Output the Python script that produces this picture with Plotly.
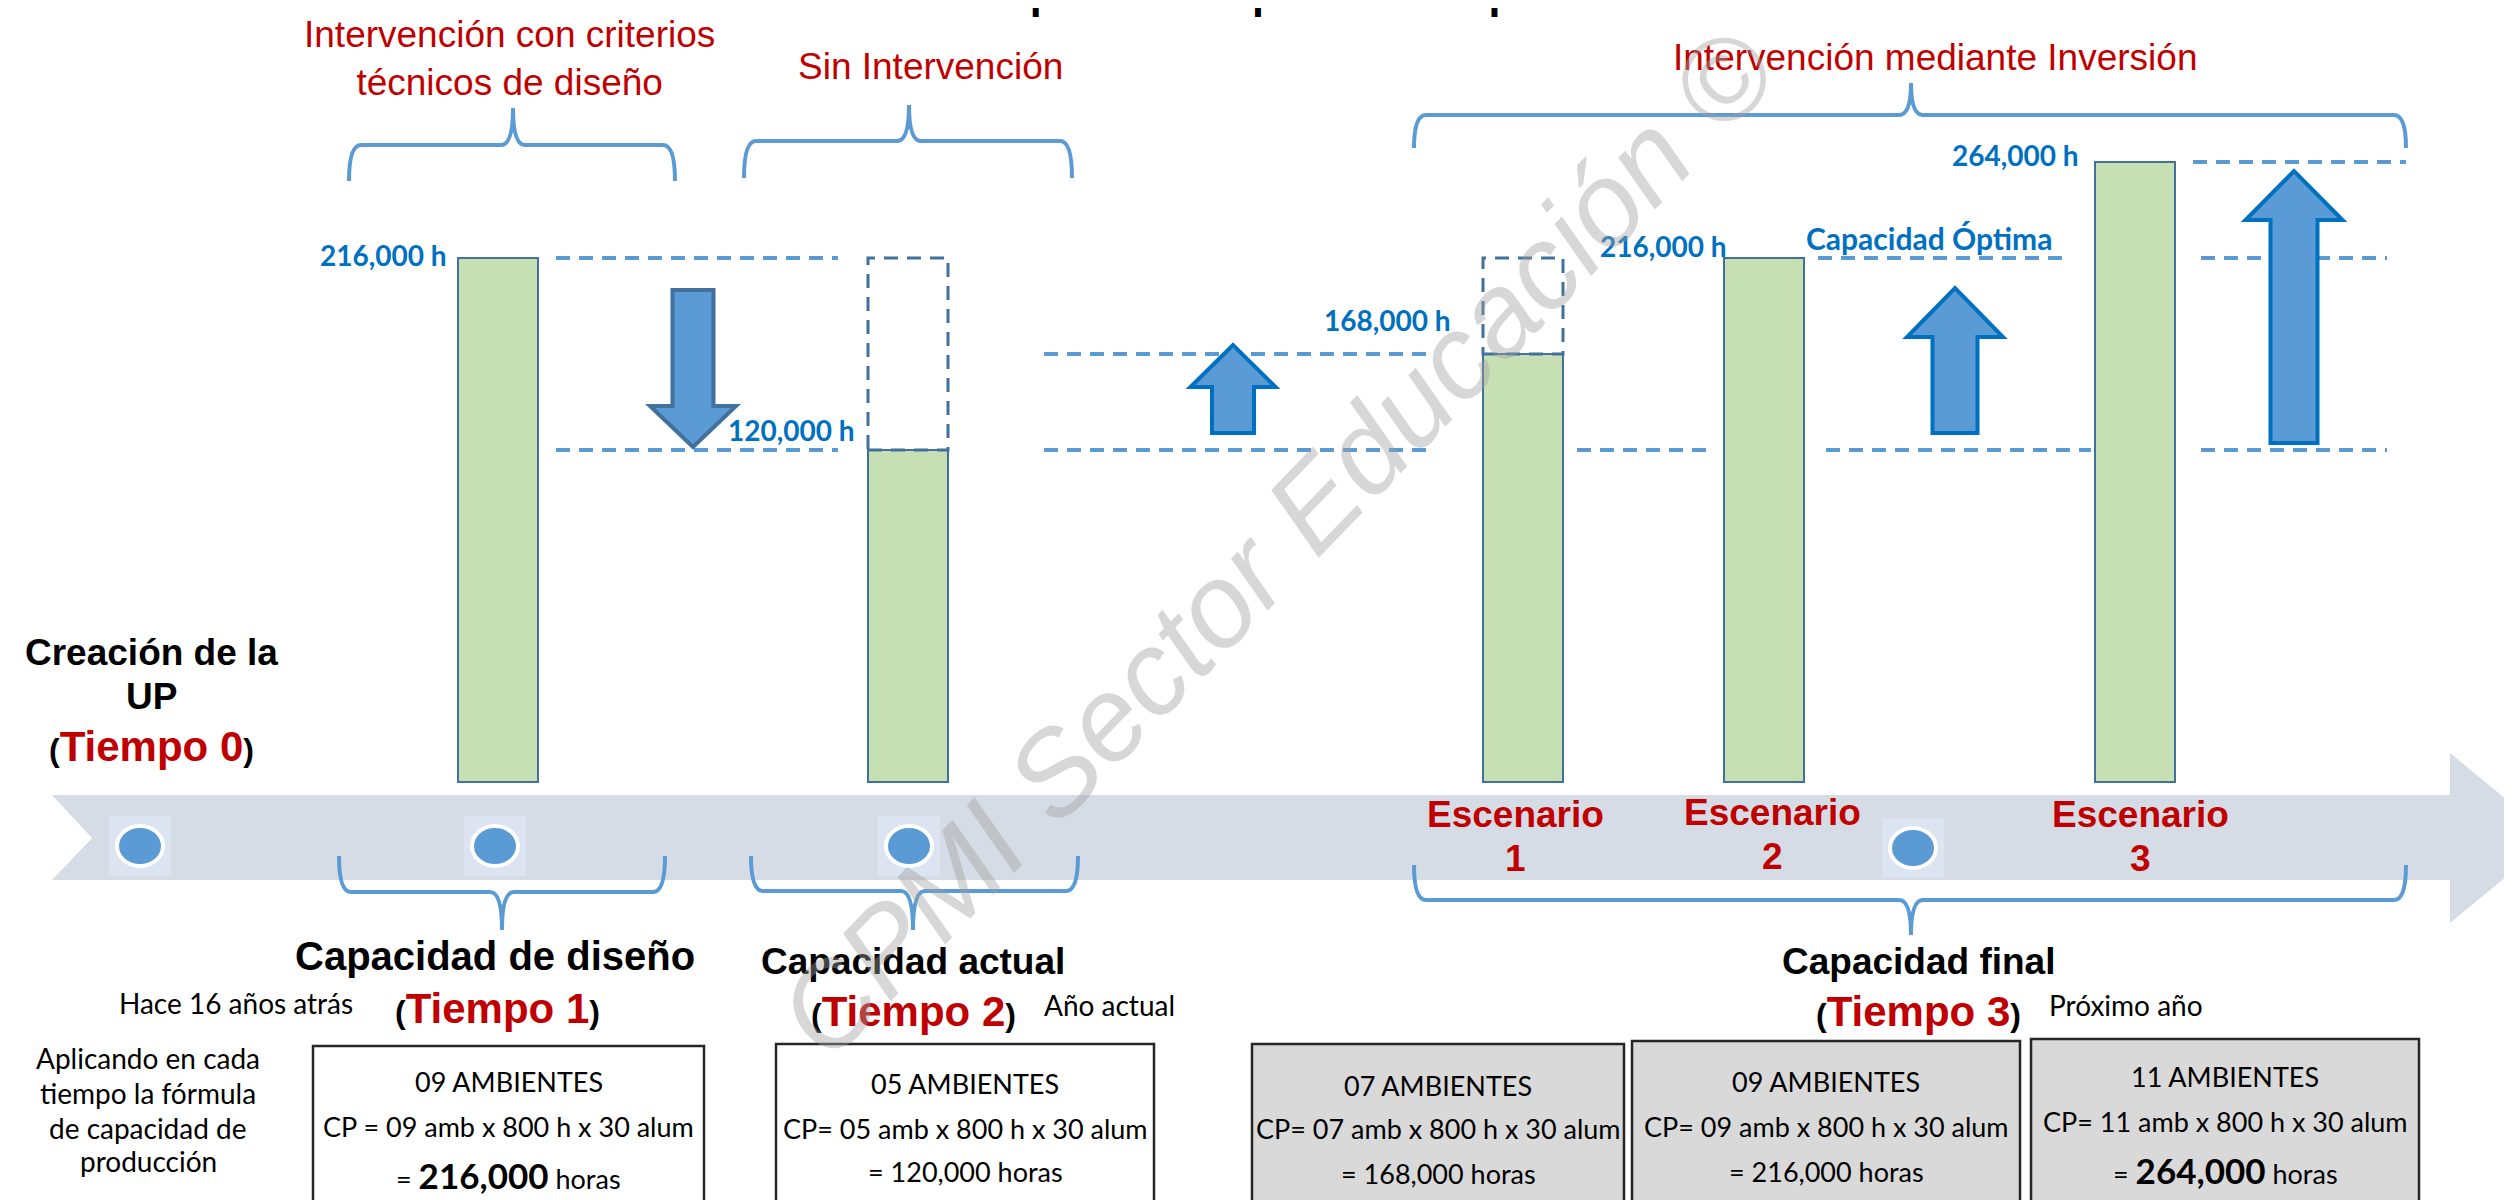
import plotly.graph_objects as go

W, H = 2512, 1200

# ---------------- datos ----------------
etapas = ["Tiempo 1", "Tiempo 2", "Escenario 1", "Escenario 2", "Escenario 3"]
ambientes = ["09", "05", "07", "09", "11"]
horas_ambiente = 800
alumnos = 30
capacidad_h = [216000, 120000, 168000, 216000, 264000]
etiquetas_h = ["216,000 h", "120,000 h", "168,000 h", "216,000 h", "264,000 h"]
capacidad_diseno = 216000
capacidad_actual = 120000
capacidad_esc1 = 168000
capacidad_max = 264000
resaltado = [True, False, False, False, True]
cp_sep = ["CP = ", "CP= ", "CP= ", "CP= ", "CP= "]
cajas_gris = [False, False, True, True, True]

titulo = "Línea de tiempo de la capacidad de producción en la UPS"
fases_arriba = ["Intervención con criterios<br>técnicos de diseño", "Sin Intervención",
                "Intervención mediante Inversión"]
tiempos = ["Tiempo 0", "Tiempo 1", "Tiempo 2", "Tiempo 3"]
capacidades = ["Capacidad de diseño", "Capacidad actual", "Capacidad final"]
referencias = ["Hace 16 años atrás", "Año actual", "Próximo año"]
nota_formula = ["Aplicando en cada", "tiempo la fórmula", "de capacidad de", "producción"]

# ---------------- escala / estilos ----------------
ARIAL = "Liberation Sans, Arial, sans-serif"
CALIBRI = "Lato, Carlito, Calibri, sans-serif"
ROJO = "#C00000"
AZUL = "#5B9BD5"
AZUL_OSC = "#41719C"
AZUL_TXT = "#0070C0"

BASE_PX = 774          # pixel row where bars start (top of timeline)
PX_POR_H = 2.0 / 1000
BASE_H = -46000        # schematic offset, bars are not to scale in the original


def h_en_px(p):
    return BASE_H + (BASE_PX - p) / PX_POR_H


def py(p):
    return 1 - p / H


bar_x = [490, 900, 1515, 1756, 2127]
bar_w = 80

fig = go.Figure()
fig.add_trace(go.Bar(
    x=bar_x, y=[c - BASE_H for c in capacidad_h], base=BASE_H, width=bar_w,
    marker=dict(color="#C6E0B4", line=dict(color=AZUL_OSC, width=2)),
    hoverinfo="skip"))

shapes = []
ann = []


def texto(x, y, s, size, color="black", family=ARIAL, xanchor="center", yanchor="middle"):
    ann.append(dict(x=x, y=py(y), xref="x", yref="paper", text=s, showarrow=False,
                    font=dict(family=family, size=size, color=color),
                    xanchor=xanchor, yanchor=yanchor))


def ruta(puntos, cerrar=True):
    s = "M " + " L ".join(f"{x},{py(y)}" for x, y in puntos)
    return s + (" Z" if cerrar else "")


# timeline band
shapes.append(dict(type="path", xref="x", yref="paper", layer="below",
                   path=ruta([(44, 787), (2442, 787), (2442, 745), (2545, 830), (2442, 915),
                              (2442, 872), (44, 872), (84, 830)]),
                   fillcolor="#D6DCE5", line=dict(width=0)))

# timeline dots
for cx, cy in [(132, 838), (487, 838), (901, 838), (1905, 840)]:
    shapes.append(dict(type="rect", xref="x", yref="paper", x0=cx - 31, x1=cx + 31,
                       y0=py(cy + 30), y1=py(cy - 30), fillcolor="#DCE4F2", line=dict(width=0)))
    shapes.append(dict(type="circle", xref="x", yref="paper", x0=cx - 25, x1=cx + 25,
                       y0=py(cy + 22), y1=py(cy - 22), fillcolor="white", line=dict(width=0)))
    shapes.append(dict(type="circle", xref="x", yref="paper", x0=cx - 21, x1=cx + 21,
                       y0=py(cy + 18), y1=py(cy - 18), fillcolor=AZUL, line=dict(width=0)))


# braces
def llave(x0, x1, xm, yh, yend, ytip, r=12):
    d = (f"M {x0},{py(yend)} Q {x0},{py(yh)} {x0 + r},{py(yh)} L {xm - r},{py(yh)} "
         f"Q {xm},{py(yh)} {xm},{py(ytip)} Q {xm},{py(yh)} {xm + r},{py(yh)} "
         f"L {x1 - r},{py(yh)} Q {x1},{py(yh)} {x1},{py(yend)}")
    shapes.append(dict(type="path", xref="x", yref="paper", path=d,
                       line=dict(color=AZUL, width=4)))


llave(341, 667, 505, 137, 173, 100)
llave(736, 1064, 901, 133, 170, 97)
llave(1406, 2398, 1903, 107, 140, 75)
llave(331, 657, 494, 884, 848, 922)
llave(743, 1070, 905, 883, 848, 922)
llave(1406, 2398, 1903, 892, 857, 927)

# dashed level lines (y in hours)
niveles = [(548, 830, capacidad_diseno), (548, 830, capacidad_actual),
           (1036, 1426, capacidad_esc1), (1036, 1426, capacidad_actual),
           (1569, 1701, capacidad_actual),
           (1810, 2059, capacidad_diseno), (1818, 2083, capacidad_actual),
           (2185, 2398, capacidad_max), (2193, 2379, capacidad_diseno),
           (2193, 2379, capacidad_actual)]
for x0, x1, nv in niveles:
    shapes.append(dict(type="line", xref="x", yref="y", x0=x0, x1=x1, y0=nv, y1=nv,
                       line=dict(color=AZUL, width=4, dash="14px,9px")))

# dashed "missing capacity" boxes above bars 2 and 3
for i in (1, 2):
    shapes.append(dict(type="rect", xref="x", yref="y",
                       x0=bar_x[i] - bar_w / 2, x1=bar_x[i] + bar_w / 2,
                       y0=capacidad_h[i], y1=capacidad_diseno,
                       line=dict(color=AZUL_OSC, width=3, dash="14px,9px")))


# block arrows
def flecha(cx, y_cola, y_punta, w_cuerpo, w_punta, l_punta, borde):
    d = 1 if y_punta > y_cola else -1
    yb = y_punta - d * l_punta
    pts = [(cx - w_cuerpo / 2, y_cola), (cx + w_cuerpo / 2, y_cola), (cx + w_cuerpo / 2, yb),
           (cx + w_punta / 2, yb), (cx, y_punta), (cx - w_punta / 2, yb),
           (cx - w_cuerpo / 2, yb)]
    shapes.append(dict(type="path", xref="x", yref="paper", path=ruta(pts),
                       fillcolor=AZUL, line=dict(color=borde, width=4)))


flecha(685, 282, 439, 41, 86, 41, AZUL_OSC)
flecha(1225, 425, 337, 42, 85, 42, AZUL_TXT)
flecha(1947, 425, 280, 45, 96, 49, AZUL_TXT)
flecha(2286, 435, 163, 47, 97, 49, AZUL_TXT)

# formula boxes
cajas = [(305, 696, 1038), (768, 1146, 1036), (1244, 1616, 1036), (1624, 2012, 1033),
         (2023, 2411, 1031)]
lineas_y = [(1073, 1118, 1167), (1075, 1120, 1163), (1077, 1120, 1165), (1073, 1118, 1163),
            (1068, 1113, 1162)]
for i, (x0, x1, yt) in enumerate(cajas):
    shapes.append(dict(type="rect", xref="x", yref="paper", x0=x0, x1=x1, y0=py(1230), y1=py(yt),
                       fillcolor="#D9D9D9" if cajas_gris[i] else "white",
                       line=dict(color="#262626", width=2.5)))
    cx = (x0 + x1) / 2
    l1, l2, l3 = lineas_y[i]
    texto(cx, l1, f"{ambientes[i]} AMBIENTES", 27, family=CALIBRI)
    texto(cx, l2, f"{cp_sep[i]}{ambientes[i]} amb x {horas_ambiente} h x {alumnos} alum", 27,
          family=CALIBRI)
    valor = f"{capacidad_h[i]:,}"
    if resaltado[i]:
        valor = f"<span style='font-size:35px'><b>{valor}</b></span>"
    texto(cx, l3, f"= {valor} horas", 27, family=CALIBRI)

# value labels
lab_pos = [(441, 247), (849, 422), (1445, 312), (1721, 238), (2073, 147)]
for (x, y), s in zip(lab_pos, etiquetas_h):
    texto(x, y, f"<b>{s}</b>", 28, AZUL_TXT, CALIBRI, xanchor="right")
texto(1796, 230, "<b>Capacidad Óptima</b>", 30, AZUL_TXT, CALIBRI, xanchor="left")

# title (cut at top in original)
texto(745, 11.5, f"<b>{titulo}</b>", 43, xanchor="left", yanchor="bottom")

# red phase titles
texto(501, 51, fases_arriba[0], 37, ROJO)
texto(922, 58, fases_arriba[1], 37, ROJO)
texto(1927, 50, fases_arriba[2], 37, ROJO)


def tiempo(t):
    return f"<b>(<span style='color:{ROJO};font-size:42px'>{t}</span>)</b>"


texto(143, 644, "<b>Creación de la</b>", 37)
texto(143, 688, "<b>UP</b>", 37)
texto(143, 738, tiempo(tiempos[0]), 32)

texto(487, 948, f"<b>{capacidades[0]}</b>", 40)
texto(489, 1000, tiempo(tiempos[1]), 32)
texto(228, 995, referencias[0], 28, family=CALIBRI)

texto(905, 953, f"<b>{capacidades[1]}</b>", 37)
texto(905, 1003, tiempo(tiempos[2]), 32)
texto(1101, 997, referencias[1], 28, family=CALIBRI)

texto(1910, 953, f"<b>{capacidades[2]}</b>", 37)
texto(1910, 1003, tiempo(tiempos[3]), 32)
texto(2118, 997, referencias[2], 28, family=CALIBRI)

for y, s in zip([1050, 1085, 1120, 1153], nota_formula):
    texto(140, y, s, 28, family=CALIBRI)

# scenario labels on the timeline
for i, cx in zip(range(2, 5), [1507, 1764, 2132]):
    palabra, num = etapas[i].split()
    dy = -2 if i == 3 else 0
    texto(cx, 806 + dy, f"<b>{palabra}</b>", 37, ROJO)
    texto(cx, 850 + dy, f"<b>{num}</b>", 37, ROJO)

# watermark
ann.append(dict(x=1268, y=py(535), xref="x", yref="paper", text="CPMI Sector Educación ©",
                showarrow=False, textangle=-46,
                font=dict(family=ARIAL, size=118, style="italic",
                          color="rgba(160,160,160,0.42)")))

fig.update_layout(
    width=W, height=H, margin=dict(l=0, r=0, t=0, b=0),
    paper_bgcolor="white", plot_bgcolor="white", showlegend=False,
    xaxis=dict(range=[0, W], visible=False, fixedrange=True),
    yaxis=dict(range=[h_en_px(H), h_en_px(0)], visible=False, fixedrange=True),
    shapes=shapes, annotations=ann)

fig.write_html("out.html")
